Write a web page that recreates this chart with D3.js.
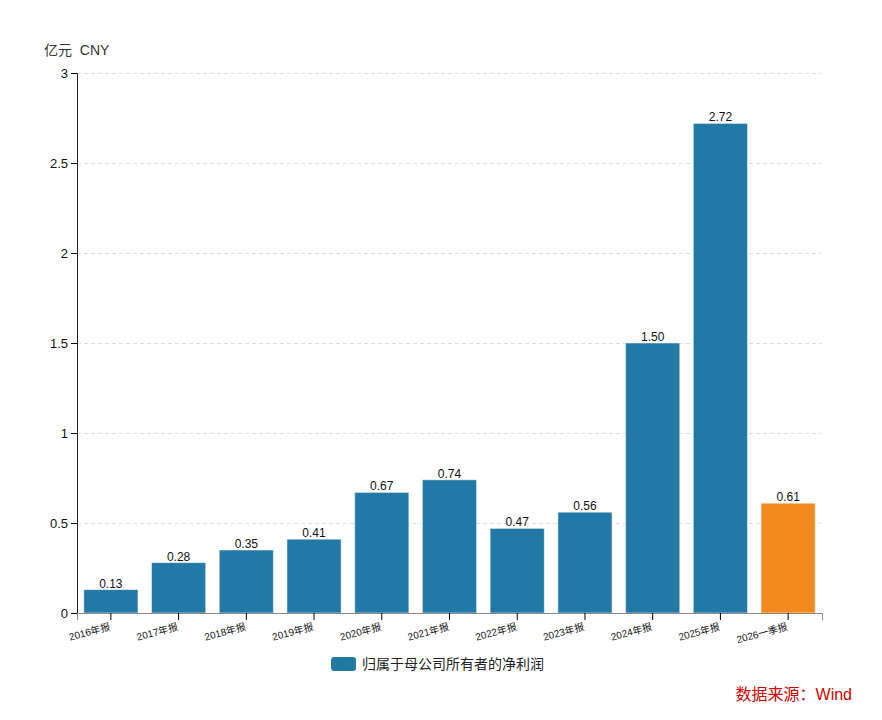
<!doctype html>
<html lang="zh">
<head>
<meta charset="utf-8">
<style>
  body { margin: 0; background: #fff; font-family: "Helvetica Neue", Arial, "Noto Sans CJK SC", sans-serif; }
  .grid line { stroke: #ddd; stroke-dasharray: 4,3; }
  .grid .domain { display: none; }
</style>
</head>
<body>
<script src="https://cdn.jsdelivr.net/npm/d3@7/dist/d3.min.js"></script>
<script>
var periods = ["2016年报","2017年报","2018年报","2019年报","2020年报","2021年报","2022年报","2023年报","2024年报","2025年报","2026一季报"];
var profits = [0.13, 0.28, 0.35, 0.41, 0.67, 0.74, 0.47, 0.56, 1.50, 2.72, 0.61];
var yTicks = [0, 0.5, 1, 1.5, 2, 2.5, 3];

var width = 882, height = 720;
var margin = {top: 73, right: 60, bottom: 107, left: 77};
var font = '"Helvetica Neue", Arial, "Noto Sans CJK SC", sans-serif';

var svg = d3.select("body").append("svg")
    .attr("width", width)
    .attr("height", height);

var x = d3.scaleBand()
    .domain(periods)
    .range([margin.left, width - margin.right])
    .paddingInner(0.2)
    .paddingOuter(0.1);

var y = d3.scaleLinear()
    .domain([0, 3])
    .range([height - margin.bottom, margin.top]);

// grid
svg.append("g")
    .attr("class", "grid")
    .attr("transform", "translate(" + margin.left + ",0)")
    .call(d3.axisLeft(y).tickValues(yTicks.slice(1)).tickSize(-(width - margin.right - margin.left)).tickFormat(""));

// bars
svg.append("g").selectAll("rect")
    .data(periods)
    .enter().append("rect")
    .attr("x", function(d){ return x(d); })
    .attr("y", function(d, i){ return y(profits[i]); })
    .attr("width", x.bandwidth())
    .attr("height", function(d, i){ return y(0) - y(profits[i]); })
    .attr("fill", function(d, i){ return i === periods.length - 1 ? "#f58a1f" : "#2379a5"; })
    .attr("stroke", "#fff")
    .attr("stroke-opacity", 0.5)
    .attr("stroke-width", 1);

// value labels
svg.append("g").selectAll("text")
    .data(periods)
    .enter().append("text")
    .attr("x", function(d){ return x(d) + x.bandwidth() / 2; })
    .attr("y", function(d, i){ return y(profits[i]) - 2; })
    .attr("text-anchor", "middle")
    .style("font-family", font)
    .style("font-size", "12px")
    .style("fill", "#111")
    .text(function(d, i){ return profits[i].toFixed(2); });

// y axis
var yAxis = svg.append("g")
    .attr("transform", "translate(" + margin.left + ",0)")
    .call(d3.axisLeft(y).tickValues(yTicks).tickFormat(function(d){ return d3.format("")(d); }));
yAxis.selectAll("text").style("font-family", font).style("font-size", "13px").style("fill", "#111");
yAxis.select(".domain").attr("stroke", "#222");

// x axis
var xAxis = svg.append("g")
    .attr("transform", "translate(0," + y(0) + ")")
    .call(d3.axisBottom(x).tickSizeOuter(0).tickSize(7));
xAxis.select(".domain").attr("stroke", "#888");
xAxis.selectAll("text")
    .style("font-family", font)
    .style("font-size", "10px")
    .style("fill", "#111")
    .attr("text-anchor", "end")
    .attr("x", 0)
    .attr("y", 0)
    .attr("dy", "0.8em")
    .attr("transform", "translate(-2,9) rotate(-15)");

// unit label
svg.append("text")
    .attr("x", 44)
    .attr("y", 55)
    .attr("xml:space", "preserve")
    .style("white-space", "pre")
    .style("font-family", font)
    .style("font-size", "14px")
    .style("fill", "#333")
    .text("亿元  CNY");

// legend
var lg = svg.append("g").attr("transform", "translate(331,657)");
lg.append("rect")
    .attr("width", 25).attr("height", 14).attr("rx", 3)
    .attr("fill", "#2379a5");
lg.append("text")
    .attr("x", 31).attr("y", 12)
    .style("font-family", font)
    .style("font-size", "14px")
    .style("fill", "#222")
    .text("归属于母公司所有者的净利润");

// source
svg.append("text")
    .attr("x", 852)
    .attr("y", 700)
    .attr("text-anchor", "end")
    .style("font-family", font)
    .style("font-size", "16px")
    .style("fill", "#d40000")
    .text("数据来源：Wind");
</script>
</body>
</html>
